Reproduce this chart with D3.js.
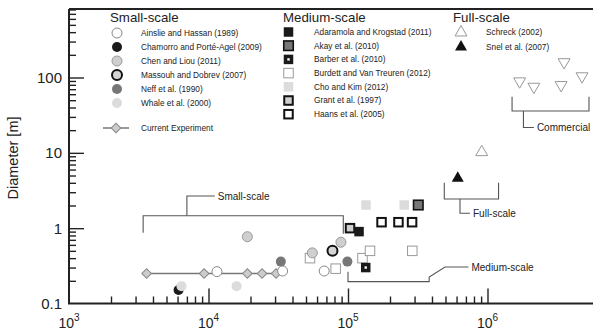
<!DOCTYPE html>
<html>
<head>
<meta charset="utf-8">
<script src="https://cdn.jsdelivr.net/npm/d3@7"></script>
<style>
  body { margin: 0; background: #fff; }
  svg { font-family: "Liberation Sans", Arial, Helvetica, sans-serif; }
</style>
</head>
<body>
<div id="chart"></div>
<script>
// Reynolds number (x) vs rotor diameter in metres (y)
const xMajor = [1e3, 1e4, 1e5, 1e6];
const xExp = ["3", "4", "5", "6"];
const yMajor = [0.1, 1, 10, 100];
const yLabels = ["0.1", "1", "10", "100"];

// small-scale
const ainslie = [[11500, 0.265], [34000, 0.27], [67500, 0.27]];
const chamorro = [[6100, 0.151]];
const chenLiou = [[19000, 0.77], [89000, 0.65], [55500, 0.47]];
const massouh = [[77400, 0.5]];
const neff = [[33000, 0.36], [99000, 0.36]];
const whale = [[6400, 0.17], [15900, 0.17]];
const current = [[3600, 0.25], [9300, 0.25], [19000, 0.25], [24200, 0.25], [30500, 0.25]];

// medium-scale
const adaramola = [[120000, 0.9]];
const akay = [[319000, 2.03]];
const barber = [[134000, 0.3]];
const burdett = [[53400, 0.4], [81600, 0.29], [127000, 0.4], [143800, 0.5], [289000, 0.5]];
const choKim = [[134600, 2.03], [253000, 2.03]];
const grant = [[103400, 1.0]];
const haans = [[174000, 1.2], [230000, 1.2], [288000, 1.2]];

// full-scale
const schreck = [[909000, 10.2]];
const snel = [[612000, 4.6]];
const commercial = [[1.70e6, 89], [2.15e6, 75.5], [3.37e6, 79.5], [3.54e6, 160], [4.76e6, 104]];

// bracket annotations, in data units
const smallBracket = [[3400, 0.87], [3400, 1.465], [92500, 1.465], [92500, 0.84]];
const smallStem = [[7000, 1.465], [7000, 2.67], [11100, 2.67]];
const mediumBracket = [[100000, 0.264], [100000, 0.195], [382000, 0.195], [382000, 0.225], [496000, 0.305], [730000, 0.305]];
const fullBracket = [[490000, 4.0], [490000, 2.44], [1.2e6, 2.44], [1.2e6, 4.0]];
const fullStem = [[635000, 2.44], [635000, 1.576], [749000, 1.576]];
const commBracket = [[1.5e6, 55.6], [1.5e6, 35.9], [5.34e6, 35.9], [5.34e6, 55.6]];
const commStem = [[1.81e6, 35.9], [1.81e6, 21.7], [2.15e6, 21.7]];

const W = 593, H = 334;
const svg = d3.select("#chart").append("svg").attr("width", W).attr("height", H);

const x = d3.scaleLog().domain([1e3, 5.7e6]).range([69, 69 + 139.5 * Math.log10(5700)]);
const y = d3.scaleLog().domain([0.1, 810]).range([303.5, 303.5 - 75.33 * Math.log10(8100)]);

const minors = (lo, hi) => {
  const out = [];
  for (let d = lo; d < hi; d *= 10) for (let k = 2; k <= 9; k++) out.push(d * k);
  return out;
};

// axes, ticks pointing inward
const ax = "#222";
svg.append("g").attr("transform", "translate(0,303.5)")
  .call(d3.axisBottom(x).tickValues(minors(1e3, 1e6).filter(v => v <= 5.7e6)).tickSize(-7).tickFormat(""))
  .call(g => g.select(".domain").remove());
svg.append("g").attr("transform", "translate(0,303.5)")
  .call(d3.axisBottom(x).tickValues(xMajor.slice(1)).tickSize(-15).tickFormat(""))
  .call(g => g.select(".domain").remove());
svg.append("g").attr("transform", "translate(69,0)")
  .call(d3.axisLeft(y).tickValues(minors(0.1, 100).concat([200, 300, 400, 500, 600, 700, 800])).tickSize(-7).tickFormat(""))
  .call(g => g.select(".domain").remove());
svg.append("g").attr("transform", "translate(69,0)")
  .call(d3.axisLeft(y).tickValues(yMajor.slice(1)).tickSize(-15).tickFormat(""))
  .call(g => g.select(".domain").remove());
svg.selectAll(".tick line").attr("stroke", ax).attr("stroke-width", 1.4);

svg.append("path")
  .attr("d", `M69,${y(810)}V303.5H${W}M69,${y(810)}H${W}`)
  .attr("fill", "none").attr("stroke", ax).attr("stroke-width", 2);

// tick labels
yMajor.forEach((v, i) => {
  svg.append("text").attr("x", 62).attr("y", y(v)).attr("dy", "0.36em")
    .attr("text-anchor", "end").attr("font-size", 15).attr("fill", "#222").text(yLabels[i]);
});
xMajor.forEach((v, i) => {
  const t = svg.append("text").attr("x", x(v)).attr("y", 328)
    .attr("text-anchor", "middle").attr("font-size", 14).attr("fill", "#222");
  t.append("tspan").text("10");
  t.append("tspan").attr("font-size", 10).attr("dy", -7).text(xExp[i]);
});

svg.append("text").attr("transform", "translate(18,158) rotate(-90)")
  .attr("text-anchor", "middle").attr("font-size", 14.5).attr("fill", "#222").text("Diameter [m]");

// marker styles
const styles = {
  ainslie: { shape: "circle", fill: "#fff", stroke: "#888", sw: 1 },
  chamorro: { shape: "circle", fill: "#1a1a1a", stroke: "none", sw: 0 },
  chenLiou: { shape: "circle", fill: "#cfcfcf", stroke: "#999", sw: 1 },
  massouh: { shape: "circle", fill: "#d4d4d4", stroke: "#111", sw: 2 },
  neff: { shape: "circle", fill: "#777", stroke: "none", sw: 0 },
  whale: { shape: "circle", fill: "#dcdcdc", stroke: "none", sw: 0 },
  adaramola: { shape: "square", fill: "#1a1a1a", stroke: "none", sw: 0 },
  akay: { shape: "square", fill: "#777", stroke: "#111", sw: 1.6 },
  barber: { shape: "barber", fill: "#1a1a1a", stroke: "none", sw: 0 },
  burdett: { shape: "square", fill: "#fff", stroke: "#999", sw: 1 },
  choKim: { shape: "square", fill: "#dcdcdc", stroke: "none", sw: 0 },
  grant: { shape: "square", fill: "#cfcfcf", stroke: "#111", sw: 2 },
  haans: { shape: "square", fill: "#fff", stroke: "#111", sw: 2 },
  schreck: { shape: "tri", fill: "#fff", stroke: "#999", sw: 1 },
  snel: { shape: "tri", fill: "#111", stroke: "none", sw: 0 },
  commercial: { shape: "triDown", fill: "#fff", stroke: "#999", sw: 1 },
  current: { shape: "diamond", fill: "#ccc", stroke: "#888", sw: 1 }
};

function marker(g, px, py, st) {
  let m;
  if (st.shape === "circle") {
    m = g.append("circle").attr("cx", px).attr("cy", py).attr("r", 5);
  } else if (st.shape === "square" || st.shape === "barber") {
    const s = st.sw >= 2 ? 8.5 : 9.5;
    m = g.append("rect").attr("x", px - s / 2).attr("y", py - s / 2).attr("width", s).attr("height", s);
  } else if (st.shape === "tri" || st.shape === "triDown") {
    m = g.append("path").attr("d", d3.symbol(d3.symbolTriangle, 62)())
      .attr("transform", `translate(${px},${py})` + (st.shape === "triDown" ? " rotate(180)" : ""));
  } else {
    m = g.append("path").attr("d", d3.symbol(d3.symbolSquare, 46)())
      .attr("transform", `translate(${px},${py}) rotate(45)`);
  }
  m.attr("fill", st.fill).attr("stroke", st.stroke).attr("stroke-width", st.sw);
  if (st.shape === "barber") {
    g.append("rect").attr("x", px - 1.2).attr("y", py - 1.2).attr("width", 2.4).attr("height", 2.4).attr("fill", "#fff");
  }
}

const plot = svg.append("g");
function series(data, key) {
  data.forEach(d => marker(plot, x(d[0]), y(d[1]), styles[key]));
}

// brackets
const line = d3.line().x(d => x(d[0])).y(d => y(d[1]));
[smallBracket, smallStem, mediumBracket, fullBracket, fullStem, commBracket, commStem].forEach(b => {
  plot.append("path").attr("d", line(b)).attr("fill", "none").attr("stroke", "#555").attr("stroke-width", 1.1);
});
const ann = [
  [smallStem[2], "Small-scale"], [mediumBracket[5], "Medium-scale"],
  [fullStem[2], "Full-scale"], [commStem[2], "Commercial"]
];
ann.forEach(a => {
  plot.append("text").attr("x", x(a[0][0]) + 3).attr("y", y(a[0][1])).attr("dy", "0.35em")
    .attr("font-size", 10).attr("fill", "#222").text(a[1]);
});

// current experiment line + diamonds
plot.append("path").attr("d", line(current)).attr("fill", "none").attr("stroke", "#777").attr("stroke-width", 1.5);
series(current, "current");

series(burdett, "burdett");
series(choKim, "choKim");
series(grant, "grant");
series(adaramola, "adaramola");
series(haans, "haans");
series(akay, "akay");
series(barber, "barber");
series(neff, "neff");
series(ainslie, "ainslie");
series(chamorro, "chamorro");
series(whale, "whale");
series(chenLiou, "chenLiou");
series(massouh, "massouh");
series(schreck, "schreck");
series(snel, "snel");
series(commercial, "commercial");

// legend
const legendCols = [
  { title: "Small-scale", tx: 110, mx: 117, lx: 141, y0: 33, dy: 14,
    items: [["ainslie", "Ainslie and Hassan (1989)"], ["chamorro", "Chamorro and Porté-Agel (2009)"],
            ["chenLiou", "Chen and Liou (2011)"], ["massouh", "Massouh and Dobrev (2007)"],
            ["neff", "Neff et al. (1990)"], ["whale", "Whale et al. (2000)"]] },
  { title: "Medium-scale", tx: 283, mx: 288.5, lx: 314, y0: 32, dy: 13.7,
    items: [["adaramola", "Adaramola and Krogstad (2011)"], ["akay", "Akay et al. (2010)"],
            ["barber", "Barber et al. (2010)"], ["burdett", "Burdett and Van Treuren (2012)"],
            ["choKim", "Cho and Kim (2012)"], ["grant", "Grant et al. (1997)"], ["haans", "Haans et al. (2005)"]] },
  { title: "Full-scale", tx: 453, mx: 461, lx: 486, y0: 32.5, dy: 14.5,
    items: [["schreck", "Schreck (2002)"], ["snel", "Snel et al. (2007)"]] }
];
const leg = svg.append("g");
legendCols.forEach(c => {
  leg.append("text").attr("x", c.tx).attr("y", 22).attr("font-size", 13.3).attr("fill", "#222").text(c.title);
  c.items.forEach((it, i) => {
    const yy = c.y0 + i * c.dy;
    marker(leg, c.mx, yy, styles[it[0]]);
    leg.append("text").attr("x", c.lx).attr("y", yy).attr("dy", "0.35em")
      .attr("font-size", 8.3).attr("fill", "#222").text(it[1]);
  });
});
leg.append("line").attr("x1", 103).attr("x2", 129).attr("y1", 128).attr("y2", 128)
  .attr("stroke", "#777").attr("stroke-width", 1.5);
marker(leg, 116, 128, styles.current);
leg.append("text").attr("x", 141).attr("y", 128).attr("dy", "0.35em")
  .attr("font-size", 8.3).attr("fill", "#222").text("Current Experiment");
</script>
</body>
</html>
